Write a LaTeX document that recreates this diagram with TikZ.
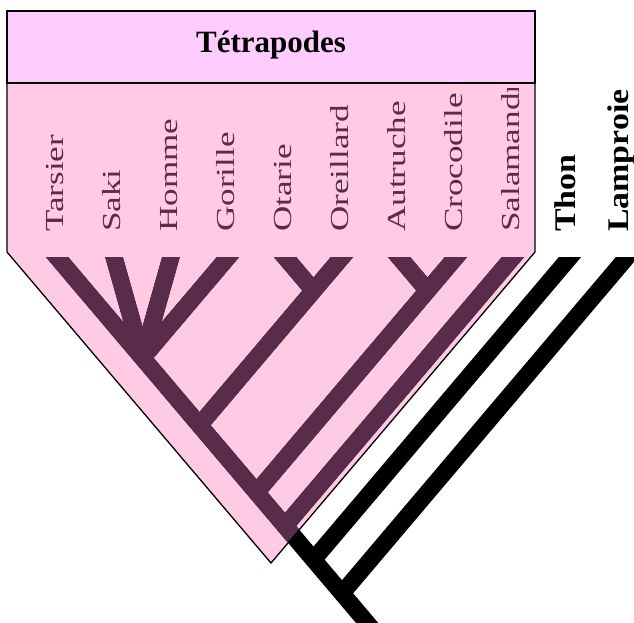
\documentclass[tikz,border=0pt]{standalone}
\usepackage{fontspec}
\setmainfont{Liberation Serif}
\usepackage{graphicx}
\definecolor{headerpink}{RGB}{255,204,255}
\definecolor{bodypink}{RGB}{255,202,228}
\definecolor{cladeshade}{RGB}{90,44,76}

\begin{document}
\begin{tikzpicture}[x=1pt,y=-1pt,
  branch/.style={line width=17pt, line cap=butt},
  taxon/.style={rotate=90, anchor=base west, inner sep=0pt,
    font=\fontsize{26}{30}\selectfont},
  outgroup/.style={rotate=90, anchor=base west, inner sep=0pt,
    font=\bfseries\fontsize{30}{34}\selectfont},
  panel/.style={draw=black, line width=1.3pt},
]
\useasboundingbox (0,0) rectangle (634,623);
\clip (0,0) rectangle (634,623);

% ---- tetrapod panel: pointed body ----
\path[fill=bodypink] (7,83) -- (7,252) -- (271,563) -- (535,252) -- (535,83) -- cycle;

% ---- tip labels ----
\begin{scope}
  \clip (0,89) rectangle (540,260);
  \node[taxon, text=cladeshade] (lab-tarsier)   at (63,232)  {\scalebox{1.35}[1]{Tarsier}};
  \node[taxon, text=cladeshade] (lab-saki)      at (120,232) {\scalebox{1.35}[1]{Saki}};
  \node[taxon, text=cladeshade] (lab-homme)     at (177,232) {\scalebox{1.35}[1]{Homme}};
  \node[taxon, text=cladeshade] (lab-gorille)   at (234,232) {\scalebox{1.35}[1]{Gorille}};
  \node[taxon, text=cladeshade] (lab-otarie)    at (291,232) {\scalebox{1.35}[1]{Otarie}};
  \node[taxon, text=cladeshade] (lab-oreillard) at (348,232) {\scalebox{1.35}[1]{Oreillard}};
  \node[taxon, text=cladeshade] (lab-autruche)  at (405,232) {\scalebox{1.35}[1]{Autruche}};
  \node[taxon, text=cladeshade] (lab-crocodile) at (462,232) {\scalebox{1.35}[1]{Crocodile}};
  \node[taxon, text=cladeshade] (lab-salamandre) at (519,232) {\scalebox{1.35}[1]{Salamandre}};
\end{scope}
\node[outgroup] (lab-thon)     at (575,232) {\scalebox{1.13}[1]{Thon}};
\node[outgroup] (lab-lamproie) at (628,232) {\scalebox{1.13}[1]{Lamproie}};

% ---- tree: branch tips (just above the cut line) and internal nodes ----
\coordinate (tip-tarsier)   at (46.8,245);
\coordinate (tip-saki)      at (110.6,245);
\coordinate (tip-homme)     at (174.4,245);
\coordinate (tip-gorille)   at (238.2,245);
\coordinate (tip-otarie)    at (274.8,245);
\coordinate (tip-oreillard) at (352.2,245);
\coordinate (tip-autruche)  at (388.8,245);
\coordinate (tip-crocodile) at (466.2,245);
\coordinate (tip-salamandre) at (523.2,245);
\coordinate (tip-thon)      at (580.2,245);
\coordinate (tip-lamproie)  at (637.2,245);

\coordinate (n-primates)  at (142.5,357.9);
\coordinate (n-pinnipede) at (313.5,290.6);
\coordinate (n-mammiferes) at (199.5,425.2);
\coordinate (n-archosaures) at (427.5,290.6);
\coordinate (n-amniotes)  at (256.5,492.4);
\coordinate (n-tetrapodes) at (285,526);
\coordinate (n-osteichthyens) at (313.5,559.7);
\coordinate (n-vertebres) at (342,593.3);
\coordinate (root)        at (390,650);

\def\drawtree{%
  \draw[branch] (tip-tarsier) -- (n-primates) -- (n-mammiferes) -- (n-amniotes)
        -- (n-tetrapodes) -- (n-osteichthyens) -- (n-vertebres) -- (root);
  \draw[branch] (tip-saki) -- (n-primates);
  \draw[branch] (tip-homme) -- (n-primates);
  \draw[branch] (tip-gorille) -- (n-primates);
  \draw[branch] (tip-otarie) -- (n-pinnipede);
  \draw[branch] (tip-oreillard) -- (n-pinnipede) -- (n-mammiferes);
  \draw[branch] (tip-autruche) -- (n-archosaures);
  \draw[branch] (tip-crocodile) -- (n-archosaures) -- (n-amniotes);
  \draw[branch] (tip-salamandre) -- (n-tetrapodes);
  \draw[branch] (tip-thon) -- (n-osteichthyens);
  \draw[branch] (tip-lamproie) -- (n-vertebres);
}

% branches in black, cut flat at the top
\begin{scope}
  \clip (0,257) rectangle (700,700);
  \drawtree
\end{scope}
% the part lying inside the tetrapod panel is tinted
\begin{scope}
  \clip (0,257) rectangle (700,700);
  \clip (7,83) -- (7,252) -- (271,563) -- (535,252) -- (535,83) -- cycle;
  \tikzset{branch/.append style={draw=cladeshade}}
  \drawtree
\end{scope}

% ---- panel outlines and header ----
\draw[panel] (7,83) -- (7,252) -- (271,563) -- (535,252) -- (535,83);
\draw[panel, fill=headerpink] (7,11) rectangle (535,83);
\node[anchor=base, inner sep=0pt, font=\bfseries\fontsize{31}{36}\selectfont]
  (title) at (271,53) {Tétrapodes};
\end{tikzpicture}
\end{document}
